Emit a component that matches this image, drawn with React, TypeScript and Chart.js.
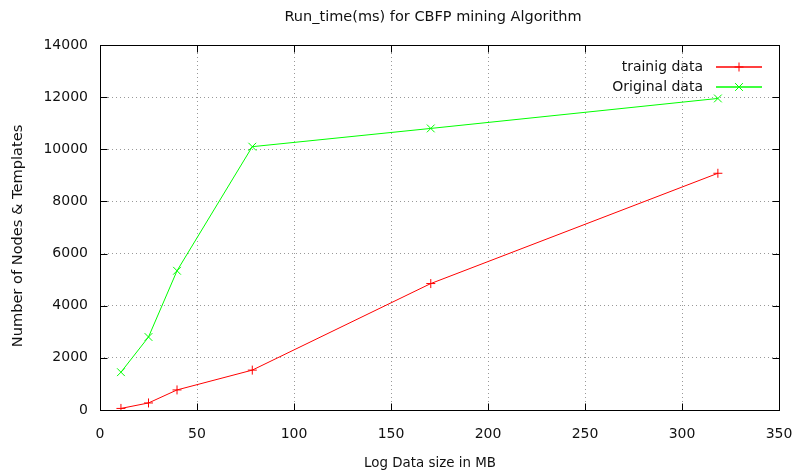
import React, { useEffect, useRef } from "react";
import { Chart, registerables } from "chart.js";

Chart.register(...registerables);

const TITLE = "Run_time(ms) for CBFP mining Algorithm";
const X_TITLE = "Log Data size in MB";
const Y_TITLE = "Number of Nodes & Templates";

const trainingX = [10.8, 25, 39.7, 78.5, 170.5, 318.5];
const trainingY = [60, 270, 770, 1530, 4850, 9080];
const originalX = [10.8, 25, 39.7, 78.5, 170.5, 318.5];
const originalY = [1450, 2800, 5340, 10100, 10800, 11950];

const SERIES_LABELS = ["trainig data", "Original data"];
const SERIES_COLORS = ["#ff0000", "#00ff00"];
const SERIES_POINTS = ["cross", "crossRot"];

const FONT = "DejaVu Sans";
const FONT_SIZE = 14;
const TEXT_COLOR = "#111";

function drawMarker(ctx: CanvasRenderingContext2D, style: string, x: number, y: number, r: number) {
  ctx.beginPath();
  if (style === "cross") {
    ctx.moveTo(x - r, y);
    ctx.lineTo(x + r, y);
    ctx.moveTo(x, y - r);
    ctx.lineTo(x, y + r);
  } else {
    const d = r * 0.7071;
    ctx.moveTo(x - d, y - d);
    ctx.lineTo(x + d, y + d);
    ctx.moveTo(x - d, y + d);
    ctx.lineTo(x + d, y - d);
  }
  ctx.stroke();
}

const framePlugin = {
  id: "gnuFrame",
  afterDraw(chart: any) {
    const { ctx, chartArea: a, scales } = chart;
    ctx.save();
    ctx.strokeStyle = "#000";
    ctx.lineWidth = 1;
    const L = Math.round(a.left) + 0.5;
    const R = Math.round(a.right) + 0.5;
    const T = Math.round(a.top) + 0.5;
    const B = Math.round(a.bottom) + 0.5;
    ctx.strokeRect(L, T, R - L, B - T);
    const tl = 7;
    ctx.beginPath();
    scales.x.ticks.forEach((t: any) => {
      const px = Math.round(scales.x.getPixelForValue(t.value)) + 0.5;
      ctx.moveTo(px, B);
      ctx.lineTo(px, B - tl);
      ctx.moveTo(px, T);
      ctx.lineTo(px, T + tl);
    });
    scales.y.ticks.forEach((t: any) => {
      const py = Math.round(scales.y.getPixelForValue(t.value)) + 0.5;
      ctx.moveTo(L, py);
      ctx.lineTo(L + tl, py);
      ctx.moveTo(R, py);
      ctx.lineTo(R - tl, py);
    });
    ctx.stroke();

    // titles (gnuplot places them slightly left of the plot centre)
    ctx.fillStyle = TEXT_COLOR;
    ctx.textAlign = "center";
    ctx.textBaseline = "middle";
    ctx.font = `14.5px "${FONT}"`;
    ctx.fillText(TITLE, 433, 17);
    ctx.font = `13.4px "${FONT}"`;
    ctx.fillText(X_TITLE, 430, 464);
    ctx.save();
    ctx.translate(18, 236);
    ctx.rotate(-Math.PI / 2);
    ctx.font = `14.6px "${FONT}"`;
    ctx.fillText(Y_TITLE, 0, 0);
    ctx.restore();

    // key (legend) inside top-right, gnuplot style
    ctx.font = `${FONT_SIZE}px "${FONT}"`;
    ctx.textAlign = "right";
    ctx.textBaseline = "middle";
    chart.data.datasets.forEach((ds: any, i: number) => {
      const y = 67 + i * 20;
      ctx.fillStyle = TEXT_COLOR;
      ctx.fillText(ds.label, 703, y);
      ctx.strokeStyle = SERIES_COLORS[i];
      ctx.lineWidth = 1.3;
      ctx.beginPath();
      ctx.moveTo(716, y);
      ctx.lineTo(762, y);
      ctx.stroke();
      ctx.lineWidth = 1;
      drawMarker(ctx, SERIES_POINTS[i], 739, y, i === 0 ? 4.5 : 5.5);
    });
    ctx.restore();
  },
};

export default function App() {
  const ref = useRef<HTMLCanvasElement | null>(null);
  useEffect(() => {
    document.body.style.margin = "0";
    const canvas = ref.current!;
    const mk = (xs: number[], ys: number[]) => xs.map((x, i) => ({ x, y: ys[i] }));
    const chart = new Chart(canvas, {
      type: "scatter",
      data: {
        datasets: [
          {
            label: SERIES_LABELS[0],
            data: mk(trainingX, trainingY),
            showLine: true,
            borderColor: SERIES_COLORS[0],
            backgroundColor: SERIES_COLORS[0],
            borderWidth: 1,
            pointStyle: SERIES_POINTS[0] as any,
            pointRadius: 4.5,
            pointBorderWidth: 1,
          },
          {
            label: SERIES_LABELS[1],
            data: mk(originalX, originalY),
            showLine: true,
            borderColor: SERIES_COLORS[1],
            backgroundColor: SERIES_COLORS[1],
            borderWidth: 1,
            pointStyle: SERIES_POINTS[1] as any,
            pointRadius: 5.5,
            pointBorderWidth: 1,
          },
        ],
      },
      options: {
        animation: false,
        responsive: false,
        layout: { padding: { left: 0, right: 13, top: 45, bottom: 0 } },
        plugins: {
          legend: { display: false },
          tooltip: { enabled: false },
          title: { display: false },
        },
        scales: {
          x: {
            type: "linear",
            min: 0,
            max: 350,
            ticks: {
              stepSize: 50,
              color: TEXT_COLOR,
              padding: 16,
              maxRotation: 0,
              font: { family: FONT, size: FONT_SIZE },
              callback: (v: any) => String(v),
            },
            grid: {
              color: "#999",
              lineWidth: 1,
              drawTicks: false,
              tickLength: 0,
            },
            border: { display: false, dash: [1, 3] },
            title: { display: false },
            afterFit(scale: any) {
              scale.height = 63;
              scale.paddingLeft = 0;
              scale.paddingRight = 0;
            },
          },
          y: {
            type: "linear",
            min: 0,
            max: 14000,
            ticks: {
              stepSize: 2000,
              color: TEXT_COLOR,
              padding: 12,
              font: { family: FONT, size: FONT_SIZE },
              callback: (v: any) => String(v),
            },
            grid: {
              color: "#999",
              lineWidth: 1,
              drawTicks: false,
              tickLength: 0,
            },
            border: { display: false, dash: [1, 3] },
            title: { display: false },
            afterFit(scale: any) {
              scale.width = 100;
              scale.paddingTop = 0;
              scale.paddingBottom = 0;
            },
          },
        },
      },
      plugins: [framePlugin],
    });
    return () => chart.destroy();
  }, []);
  return (
    <div style={{ width: 792, height: 473 }}>
      <canvas ref={ref} width={792} height={473} style={{ display: "block" }} />
    </div>
  );
}
